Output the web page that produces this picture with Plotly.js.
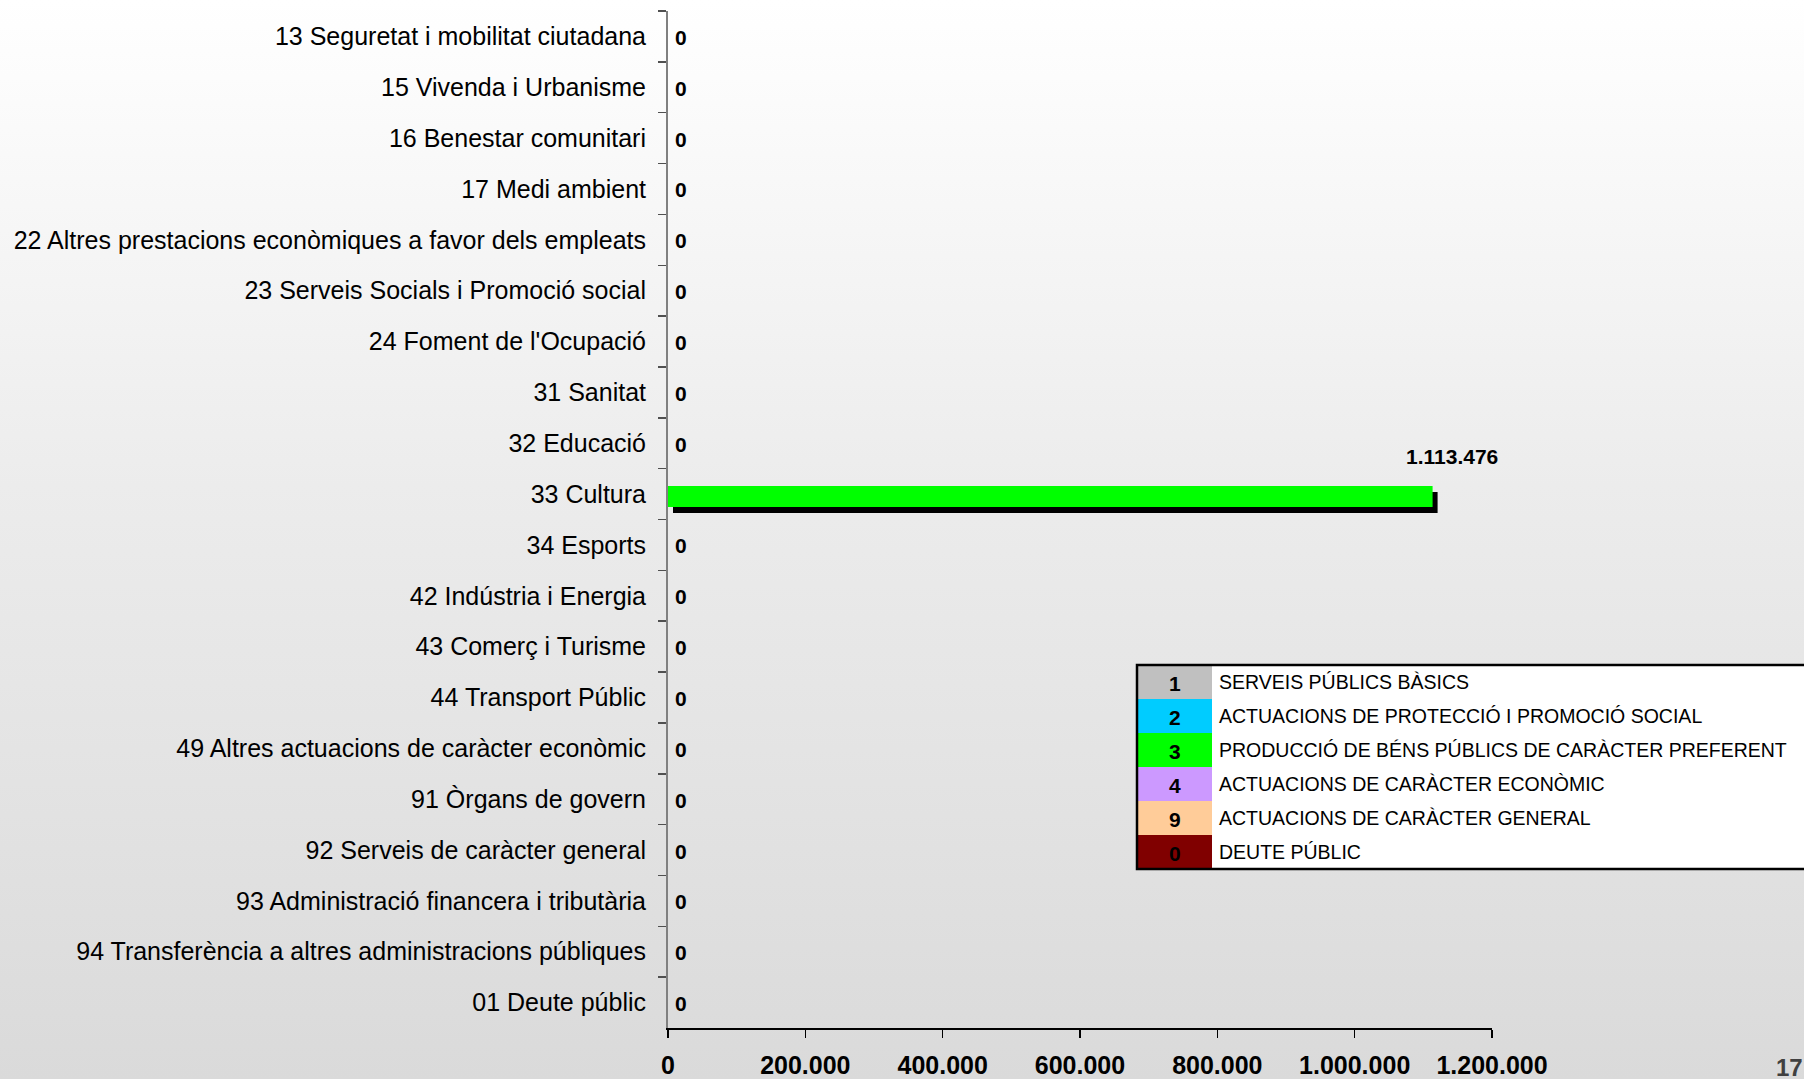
<!DOCTYPE html>
<html>
<head>
<meta charset="utf-8">
<script src="https://cdn.plot.ly/plotly-3.0.1.min.js"></script>
<style>
  html, body { margin: 0; padding: 0; }
  body { width: 1804px; height: 1079px; overflow: hidden;
         background: linear-gradient(to bottom, #ffffff 0%, #ececec 45%, #dadada 100%); }
  #chart { width: 1804px; height: 1079px; }
</style>
</head>
<body>
<div id="chart"></div>
<script>
// ---- data ----
const categories = [
  "13 Seguretat i mobilitat ciutadana",
  "15 Vivenda i Urbanisme",
  "16 Benestar comunitari",
  "17 Medi ambient",
  "22 Altres prestacions econòmiques a favor dels empleats",
  "23 Serveis Socials i Promoció social",
  "24 Foment de l'Ocupació",
  "31 Sanitat",
  "32 Educació",
  "33 Cultura",
  "34 Esports",
  "42 Indústria i Energia",
  "43 Comerç i Turisme",
  "44 Transport Públic",
  "49 Altres actuacions de caràcter econòmic",
  "91 Òrgans de govern",
  "92 Serveis de caràcter general",
  "93 Administració financera i tributària",
  "94 Transferència a altres administracions públiques",
  "01 Deute públic"
];
const values = [0, 0, 0, 0, 0, 0, 0, 0, 0, 1113476, 0, 0, 0, 0, 0, 0, 0, 0, 0, 0];
const groupCodes = ["1", "2", "3", "4", "9", "0"];
const groupLabels = [
  "SERVEIS PÚBLICS BÀSICS",
  "ACTUACIONS DE PROTECCIÓ I PROMOCIÓ SOCIAL",
  "PRODUCCIÓ DE BÉNS PÚBLICS DE CARÀCTER PREFERENT",
  "ACTUACIONS DE CARÀCTER ECONÒMIC",
  "ACTUACIONS DE CARÀCTER GENERAL",
  "DEUTE PÚBLIC"
];
const groupColors = ["#c0c0c0", "#00ccff", "#00ff00", "#cc99ff", "#ffcc99", "#800000"];
const xTicks = [0, 200000, 400000, 600000, 800000, 1000000, 1200000];
const pageNumber = "17";

// ---- layout geometry ----
const W = 1804, H = 1079;
const M = { l: 668, r: 312, t: 11, b: 51 };
const PW = W - M.l - M.r, PH = H - M.t - M.b;
const XMAX = xTicks[xTicks.length - 1];
const xp = px => (px - M.l) / PW;
const yp = py => (H - M.b - py) / PH;
const FONT = "Liberation Sans, Arial, sans-serif";

const fmt = v => String(Math.round(v)).replace(/\B(?=(\d{3})+(?!\d))/g, ".");
const barColors = categories.map(c => groupColors[groupCodes.indexOf(c.charAt(0))]);

const shadowDx = 5 * XMAX / PW;  // shadow shifted a few pixels right

const traces = [
  {
    type: "bar", orientation: "h", y: categories, x: values, base: shadowDx,
    marker: { color: "#000000", line: { width: 0 } },
    width: 0.41, offset: -0.04, hoverinfo: "skip", showlegend: false
  },
  {
    type: "bar", orientation: "h", y: categories, x: values,
    marker: { color: barColors, line: { width: 0 } },
    width: 0.41, offset: -0.157, showlegend: false
  }
];

const annotations = [];
categories.forEach((c, i) => {
  const v = values[i];
  if (v > 0) {
    annotations.push({ x: v, y: c, xref: "x", yref: "y", text: fmt(v), showarrow: false,
      xanchor: "center", yanchor: "middle", xshift: 19, yshift: 38,
      font: { family: FONT, size: 21, color: "#000", weight: "bold" } });
  } else {
    annotations.push({ x: v, y: c, xref: "x", yref: "y", text: fmt(v), showarrow: false,
      xanchor: "left", yanchor: "middle", xshift: 5, yshift: -1,
      font: { family: FONT, size: 21, color: "#000", weight: "bold" } });
  }
});

// legend box (table-like)
const shapes = [];
const LG = { x0: 1137, x1: 1812, y0: 665, rowH: 34, colW: 75 };
groupCodes.forEach((g, i) => {
  const ya = LG.y0 + i * LG.rowH, yb = ya + LG.rowH;
  shapes.push({ type: "rect", xref: "paper", yref: "paper",
    x0: xp(LG.x0), x1: xp(LG.x0 + LG.colW), y0: yp(yb), y1: yp(ya),
    fillcolor: groupColors[i], line: { width: 0 }, layer: "above" });
  annotations.push({ xref: "paper", yref: "paper", x: xp(LG.x0 + LG.colW / 2), y: yp((ya + yb) / 2 + 1),
    text: g, showarrow: false, xanchor: "center", yanchor: "middle",
    font: { family: FONT, size: 21, color: "#000", weight: "bold" } });
  annotations.push({ xref: "paper", yref: "paper", x: xp(LG.x0 + LG.colW + 5), y: yp((ya + yb) / 2),
    text: groupLabels[i], showarrow: false, xanchor: "left", yanchor: "middle",
    font: { family: FONT, size: 19.5, color: "#000" } });
});
shapes.unshift({ type: "rect", xref: "paper", yref: "paper",
  x0: xp(LG.x0), x1: xp(LG.x1), y0: yp(LG.y0 + 6 * LG.rowH), y1: yp(LG.y0),
  fillcolor: "#ffffff", line: { width: 0 }, layer: "above" });
shapes.push({ type: "rect", xref: "paper", yref: "paper",
  x0: xp(LG.x0), x1: xp(LG.x1), y0: yp(LG.y0 + 6 * LG.rowH), y1: yp(LG.y0),
  fillcolor: "rgba(0,0,0,0)", line: { width: 2.5, color: "#000" }, layer: "above" });

// page number
annotations.push({ xref: "paper", yref: "paper", x: xp(1774), y: yp(1052), text: pageNumber,
  showarrow: false, xanchor: "left", yanchor: "top",
  font: { family: FONT, size: 24, color: "#404040", weight: "bold" } });

const layout = {
  width: W, height: H, margin: M,
  paper_bgcolor: "rgba(0,0,0,0)", plot_bgcolor: "rgba(0,0,0,0)",
  separators: ",.",
  barmode: "overlay", showlegend: false,
  xaxis: {
    range: [0, XMAX], tickvals: xTicks, tickformat: ",d",
    showgrid: false, zeroline: false,
    showline: true, linecolor: "#000", linewidth: 1.5,
    ticks: "outside", ticklen: 8, tickcolor: "#000", tickwidth: 1.5,
    ticklabelstandoff: 6,
    tickfont: { family: FONT, size: 25, color: "#000", weight: "bold" },
    automargin: false, fixedrange: true
  },
  yaxis: {
    type: "category", categoryorder: "array", categoryarray: categories,
    autorange: "reversed", tickson: "boundaries",
    showgrid: false, zeroline: false,
    showline: true, linecolor: "#808080", linewidth: 2,
    ticks: "outside", ticklen: 8, tickcolor: "#505050", tickwidth: 1.5,
    ticklabelstandoff: 15,
    tickfont: { family: FONT, size: 25, color: "#000" },
    automargin: false, fixedrange: true
  },
  shapes: shapes,
  annotations: annotations
};

Plotly.newPlot("chart", traces, layout, { staticPlot: true, displayModeBar: false });
</script>
</body>
</html>
